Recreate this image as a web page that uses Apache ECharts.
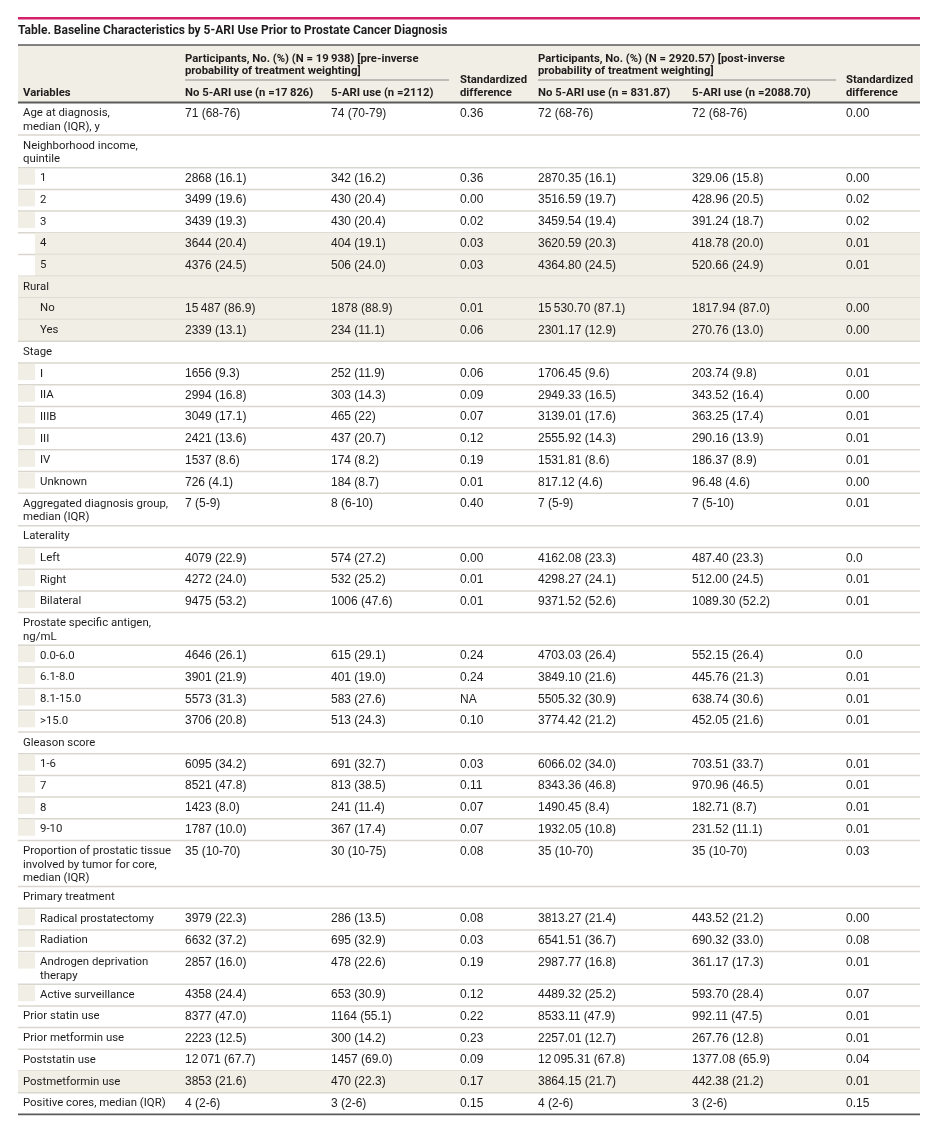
<!DOCTYPE html>
<html><head><meta charset="utf-8">
<script src="https://cdn.jsdelivr.net/npm/echarts@6/dist/echarts.min.js"></script>
<style>html,body{margin:0;padding:0;background:#fff}#c{width:936px;height:1124px}</style>
</head><body><div id="c"></div>
<script>
// ---------------- data ----------------
const tableTitle = 'Table. Baseline Characteristics by 5-ARI Use Prior to Prostate Cancer Diagnosis';
const headerSpans = [
  'Participants, No. (%) (N = 19\u2009938) [pre-inverse\nprobability of treatment weighting]',
  'Participants, No. (%) (N = 2920.57) [post-inverse\nprobability of treatment weighting]'
];
const headerColumns = ['Variables', 'No 5-ARI use (n =17\u2009826)', '5-ARI use (n =2112)', 'Standardized\ndifference',
  'No 5-ARI use (n = 831.87)', '5-ARI use (n =2088.70)', 'Standardized\ndifference'];

const variables = ['Age at diagnosis,\nmedian (IQR), y', 'Neighborhood income,\nquintile', '1', '2', '3', '4', '5',
  'Rural', 'No', 'Yes', 'Stage', 'I', 'IIA', 'IIIB', 'III', 'IV', 'Unknown',
  'Aggregated diagnosis group,\nmedian (IQR)', 'Laterality', 'Left', 'Right', 'Bilateral',
  'Prostate specific antigen,\nng/mL', '0.0-6.0', '6.1-8.0', '8.1-15.0', '>15.0',
  'Gleason score', '1-6', '7', '8', '9-10',
  'Proportion of prostatic tissue\ninvolved by tumor for core,\nmedian (IQR)', 'Primary treatment',
  'Radical prostatectomy', 'Radiation', 'Androgen deprivation\ntherapy', 'Active surveillance',
  'Prior statin use', 'Prior metformin use', 'Poststatin use', 'Postmetformin use', 'Positive cores, median (IQR)'];
const level = [0,0, 1,1,1,1,1, 0, 1,1, 0, 1,1,1,1,1,1, 0, 0, 1,1,1, 0, 1,1,1,1, 0, 1,1,1,1, 0, 0, 1,1,1,1, 0,0,0,0,0];

const preNo = ['71 (68-76)', '', '2868 (16.1)', '3499 (19.6)', '3439 (19.3)', '3644 (20.4)', '4376 (24.5)',
  '', '15\u2009487 (86.9)', '2339 (13.1)', '', '1656 (9.3)', '2994 (16.8)', '3049 (17.1)', '2421 (13.6)', '1537 (8.6)', '726 (4.1)',
  '7 (5-9)', '', '4079 (22.9)', '4272 (24.0)', '9475 (53.2)', '', '4646 (26.1)', '3901 (21.9)', '5573 (31.3)', '3706 (20.8)',
  '', '6095 (34.2)', '8521 (47.8)', '1423 (8.0)', '1787 (10.0)', '35 (10-70)', '', '3979 (22.3)', '6632 (37.2)', '2857 (16.0)', '4358 (24.4)',
  '8377 (47.0)', '2223 (12.5)', '12\u2009071 (67.7)', '3853 (21.6)', '4 (2-6)'];
const preYes = ['74 (70-79)', '', '342 (16.2)', '430 (20.4)', '430 (20.4)', '404 (19.1)', '506 (24.0)',
  '', '1878 (88.9)', '234 (11.1)', '', '252 (11.9)', '303 (14.3)', '465 (22)', '437 (20.7)', '174 (8.2)', '184 (8.7)',
  '8 (6-10)', '', '574 (27.2)', '532 (25.2)', '1006 (47.6)', '', '615 (29.1)', '401 (19.0)', '583 (27.6)', '513 (24.3)',
  '', '691 (32.7)', '813 (38.5)', '241 (11.4)', '367 (17.4)', '30 (10-75)', '', '286 (13.5)', '695 (32.9)', '478 (22.6)', '653 (30.9)',
  '1164 (55.1)', '300 (14.2)', '1457 (69.0)', '470 (22.3)', '3 (2-6)'];
const preDiff = ['0.36', '', '0.36', '0.00', '0.02', '0.03', '0.03',
  '', '0.01', '0.06', '', '0.06', '0.09', '0.07', '0.12', '0.19', '0.01',
  '0.40', '', '0.00', '0.01', '0.01', '', '0.24', '0.24', 'NA', '0.10',
  '', '0.03', '0.11', '0.07', '0.07', '0.08', '', '0.08', '0.03', '0.19', '0.12',
  '0.22', '0.23', '0.09', '0.17', '0.15'];
const postNo = ['72 (68-76)', '', '2870.35 (16.1)', '3516.59 (19.7)', '3459.54 (19.4)', '3620.59 (20.3)', '4364.80 (24.5)',
  '', '15\u2009530.70 (87.1)', '2301.17 (12.9)', '', '1706.45 (9.6)', '2949.33 (16.5)', '3139.01 (17.6)', '2555.92 (14.3)', '1531.81 (8.6)', '817.12 (4.6)',
  '7 (5-9)', '', '4162.08 (23.3)', '4298.27 (24.1)', '9371.52 (52.6)', '', '4703.03 (26.4)', '3849.10 (21.6)', '5505.32 (30.9)', '3774.42 (21.2)',
  '', '6066.02 (34.0)', '8343.36 (46.8)', '1490.45 (8.4)', '1932.05 (10.8)', '35 (10-70)', '', '3813.27 (21.4)', '6541.51 (36.7)', '2987.77 (16.8)', '4489.32 (25.2)',
  '8533.11 (47.9)', '2257.01 (12.7)', '12\u2009095.31 (67.8)', '3864.15 (21.7)', '4 (2-6)'];
const postYes = ['72 (68-76)', '', '329.06 (15.8)', '428.96 (20.5)', '391.24 (18.7)', '418.78 (20.0)', '520.66 (24.9)',
  '', '1817.94 (87.0)', '270.76 (13.0)', '', '203.74 (9.8)', '343.52 (16.4)', '363.25 (17.4)', '290.16 (13.9)', '186.37 (8.9)', '96.48 (4.6)',
  '7 (5-10)', '', '487.40 (23.3)', '512.00 (24.5)', '1089.30 (52.2)', '', '552.15 (26.4)', '445.76 (21.3)', '638.74 (30.6)', '452.05 (21.6)',
  '', '703.51 (33.7)', '970.96 (46.5)', '182.71 (8.7)', '231.52 (11.1)', '35 (10-70)', '', '443.52 (21.2)', '690.32 (33.0)', '361.17 (17.3)', '593.70 (28.4)',
  '992.11 (47.5)', '267.76 (12.8)', '1377.08 (65.9)', '442.38 (21.2)', '3 (2-6)'];
const postDiff = ['0.00', '', '0.00', '0.02', '0.02', '0.01', '0.01',
  '', '0.00', '0.00', '', '0.01', '0.00', '0.01', '0.01', '0.01', '0.00',
  '0.01', '', '0.0', '0.01', '0.01', '', '0.0', '0.01', '0.01', '0.01',
  '', '0.01', '0.01', '0.01', '0.01', '0.03', '', '0.00', '0.08', '0.01', '0.07',
  '0.01', '0.01', '0.04', '0.01', '0.15'];

// ---------------- layout & style ----------------
const LABEL_FONT = "Roboto, 'Noto Sans', sans-serif";
const NUM_FONT = "'Liberation Sans', Arial, sans-serif";
const INK = '#1f1c1d', SHADE = '#f1eee5', RULE = '#d9d6cd', DARK = '#5b5b5b', PINK = '#d4206a';
const TABLE_W = 902;
const COL_X = [5, 167, 313, 442, 520, 674, 828];
const INDENT = 17, INDENT_TEXT = 17;
const HEADER_H = 57.5;
const ROW_H = {1: 21.7, 2: 32.6, 3: 46};
const LINE_H = 13.5, TEXT_PAD = 4;
const fullShade = [7, 8, 9, 41];      // rows drawn with full-width shading
const bodyShade = [5, 6];             // rows shaded to the right of the indent

const nLines = variables.map(v => v.split('\n').length);
const rowHeight = nLines.map(n => ROW_H[n]);
const rowTop = [];
let acc = HEADER_H;
rowHeight.forEach(h => { rowTop.push(acc); acc += h; });
const TOTAL = acc;
const GRID_TOP = 45;

function renderHeader(params, api) {
  const a = api.coord([0, 0]), b = api.coord([TABLE_W, HEADER_H]);
  const sx = v => api.coord([v, 0])[0];
  const y0 = a[1], y1 = b[1];
  const ch = [];
  ch.push({type: 'rect', shape: {x: a[0], y: y0, width: b[0] - a[0], height: y1 - y0}, style: {fill: SHADE}});
  ch.push({type: 'line', shape: {x1: a[0], y1: y0, x2: b[0], y2: y0}, style: {stroke: DARK, lineWidth: 1.5}});
  ch.push({type: 'line', shape: {x1: a[0], y1: y1, x2: b[0], y2: y1}, style: {stroke: DARK, lineWidth: 1.8}});
  [[1, 431], [4, 818]].forEach(([c, end], k) => {
    ch.push({type: 'text', style: {text: headerSpans[k], x: sx(COL_X[c]), y: y0 + 7.5, fill: INK,
      font: `bold 11.3px ${LABEL_FONT}`, lineHeight: 12.5, align: 'left', verticalAlign: 'top'}});
    ch.push({type: 'line', shape: {x1: sx(COL_X[c]), y1: y0 + 35, x2: sx(end), y2: y0 + 35}, style: {stroke: '#8a8a8a', lineWidth: 1}});
  });
  headerColumns.forEach((t, c) => {
    ch.push({type: 'text', style: {text: t, x: sx(COL_X[c]), y: y0 + 54.5, fill: INK,
      font: `bold 11.3px ${LABEL_FONT}`, lineHeight: 13, align: 'left', verticalAlign: 'bottom'}});
  });
  return {type: 'group', children: ch};
}

function renderRow(params, api) {
  const i = api.value(1);
  const a = api.coord([0, rowTop[i]]), b = api.coord([TABLE_W, rowTop[i] + rowHeight[i]]);
  const sx = v => api.coord([v, 0])[0];
  const x0 = a[0], x1 = b[0], y0 = a[1], y1 = b[1];
  const ch = [];
  if (fullShade.includes(i)) {
    ch.push({type: 'rect', shape: {x: x0, y: y0, width: x1 - x0, height: y1 - y0}, style: {fill: SHADE}});
  } else if (bodyShade.includes(i)) {
    ch.push({type: 'rect', shape: {x: sx(INDENT), y: y0, width: x1 - sx(INDENT), height: y1 - y0}, style: {fill: SHADE}});
  } else if (level[i] === 1) {
    ch.push({type: 'rect', shape: {x: x0, y: y0 + 1, width: sx(INDENT) - x0, height: 16}, style: {fill: SHADE}});
  }
  const last = i === variables.length - 1;
  ch.push({type: 'line', shape: {x1: x0, y1: y1, x2: x1, y2: y1}, style: {stroke: last ? DARK : RULE, lineWidth: last ? 1.8 : 1.5}});
  const cells = [variables[i], preNo[i], preYes[i], preDiff[i], postNo[i], postYes[i], postDiff[i]];
  cells.forEach((t, c) => {
    if (!t) return;
    const x = c === 0 ? sx(COL_X[0] + (level[i] === 1 ? INDENT_TEXT : 0)) : sx(COL_X[c]);
    ch.push({type: 'text', style: {text: t, x: x, y: y0 + TEXT_PAD, fill: INK,
      font: c === 0 ? `11.4px ${LABEL_FONT}` : `12px ${NUM_FONT}`, lineHeight: LINE_H, align: 'left', verticalAlign: 'top'}});
  });
  return {type: 'group', children: ch};
}

const chart = echarts.init(document.getElementById('c'), null, {renderer: 'canvas'});
chart.setOption({
  animation: false,
  backgroundColor: '#fff',
  title: {text: tableTitle, left: 18, top: 25, padding: 0, textStyle: {fontFamily: LABEL_FONT, fontSize: 12, fontWeight: 'bold', color: INK}},
  graphic: [{type: 'rect', left: 18, top: 17, shape: {width: TABLE_W, height: 2.5}, style: {fill: PINK}}],
  grid: {left: 18, right: 936 - 18 - TABLE_W, top: GRID_TOP, height: TOTAL},
  xAxis: {type: 'value', min: 0, max: TABLE_W, show: false},
  yAxis: {type: 'value', min: 0, max: TOTAL, inverse: true, show: false},
  series: [
    {type: 'custom', name: 'header', renderItem: renderHeader, data: [[0, 0]], clip: false, silent: true},
    {type: 'custom', name: 'rows', renderItem: renderRow, data: variables.map((v, i) => [0, i]), clip: false, silent: true}
  ]
});
</script></body></html>
